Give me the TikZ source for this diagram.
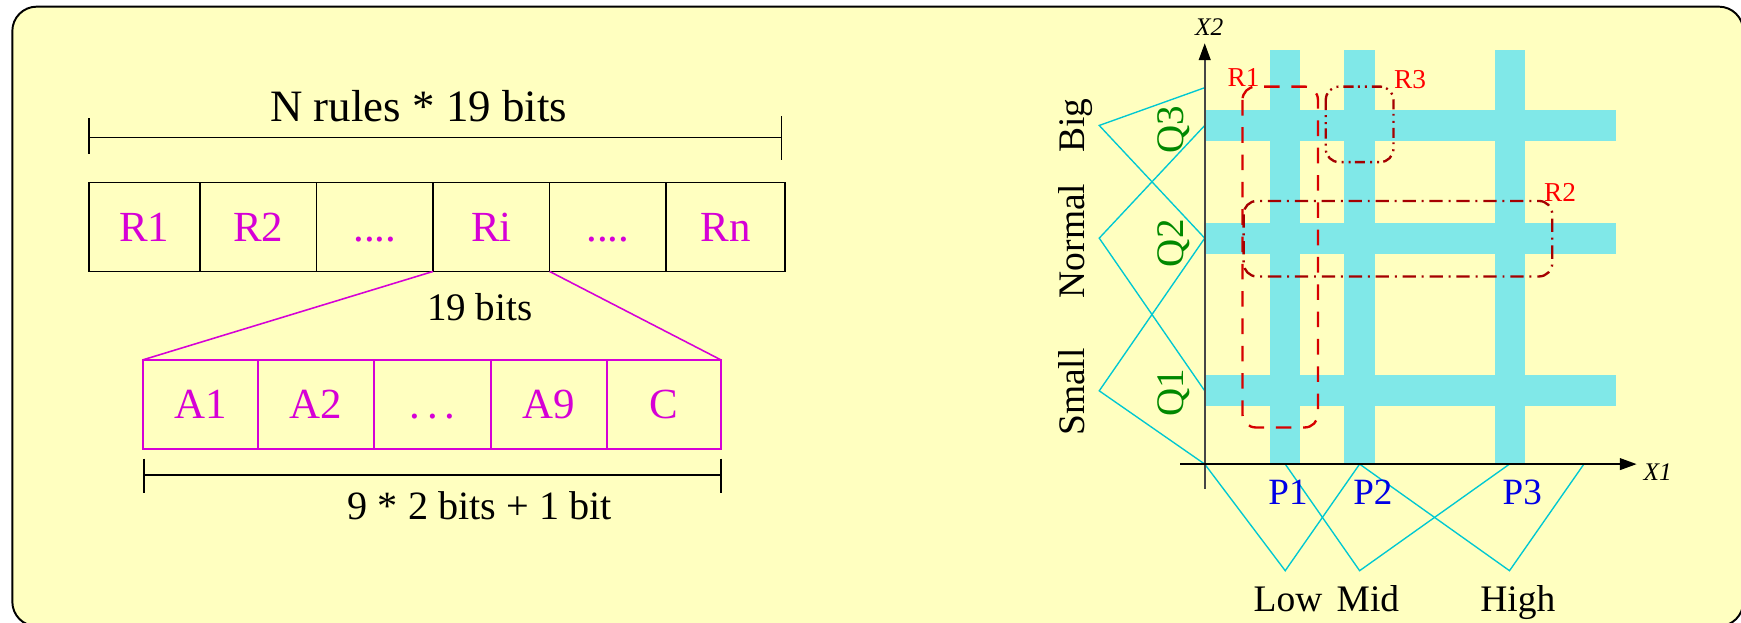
\documentclass[tikz,border=0pt]{standalone}
\usepackage{fontspec}
\setmainfont{Liberation Serif}
\usetikzlibrary{positioning,arrows.meta}

\definecolor{bgyellow}{RGB}{255,255,192}
\definecolor{barcyan}{RGB}{128,232,232}
\definecolor{mfcyan}{RGB}{0,200,210}
\definecolor{labmag}{RGB}{214,0,214}
\definecolor{qgreen}{RGB}{0,136,0}
\definecolor{pblue}{RGB}{0,0,230}
\definecolor{rulered}{RGB}{215,0,0}
\definecolor{rulebrown}{RGB}{165,0,0}
\definecolor{axisgray}{RGB}{70,70,70}

\begin{document}
\begin{tikzpicture}[
    rbox/.style={
        rectangle,
        draw,
        line width=0.4pt,
        outer sep=0pt,
        inner sep=0pt,
        minimum width=1.05cm,
        minimum height=0.8cm,
        text height=7.3pt,
        text depth=0pt,
        text=labmag,
        font=\fontsize{11}{13}\selectfont
    },
    abox/.style={
        rbox,
        draw=labmag,
        line width=0.5pt
    },
    bar/.style={fill=barcyan, draw=none},
    mf/.style={draw=mfcyan, line width=0.35pt},
    lab/.style={inner sep=0pt, font=\fontsize{9.6}{11}\selectfont},
    qlab/.style={inner sep=0pt, text=qgreen, font=\fontsize{10}{12}\selectfont},
    plab/.style={inner sep=0pt, text=pblue, font=\fontsize{9.5}{11}\selectfont},
    rlab/.style={inner sep=0pt, text=red, font=\fontsize{7}{8}\selectfont},
    axlab/.style={inner sep=0pt, font=\fontsize{6.5}{8}\selectfont\itshape},
    rulebox/.style={line width=0.6pt, rounded corners=0.12cm},
    axis/.style={line width=0.45pt, -{Triangle[length=4.3pt,width=3pt,color=black]}}
]

\useasboundingbox (0,0) rectangle (15.68,-5.61);
\draw[fill=bgyellow, line width=0.5pt, rounded corners=0.22cm]
    (0.111,-0.06) rectangle (15.70,-5.64);

% rule string
\node[inner sep=0pt, anchor=base, font=\fontsize{11.5}{14}\selectfont] (ntitle)
    at (3.77,-1.09) {N rules * 19 bits};
\coordinate (nl) at (0.80,-1.24);
\coordinate (nr) at (7.04,-1.24);
\draw[line width=0.4pt] (nl) -- (nr);
\draw[line width=0.4pt] (0.80,-1.065) -- (0.80,-1.387);
\draw[line width=0.4pt] (7.04,-1.047) -- (7.04,-1.44);

\node[rbox, minimum width=1.00cm, anchor=north west] (r1) at (0.80,-1.645) {R1};
\node[rbox, right=0pt of r1] (r2) {R2};
\node[rbox, right=0pt of r2] (rdots1) {....};
\node[rbox, right=0pt of rdots1] (ri) {Ri};
\node[rbox, right=0pt of ri] (rdots2) {....};
\node[rbox, minimum width=1.07cm, right=0pt of rdots2] (rn) {Rn};

\node[inner sep=0pt, anchor=base, font=\fontsize{10}{12}\selectfont] (rbits)
    at (4.32,-2.89) {19 bits};

% one rule
\node[abox, minimum width=1.03cm, anchor=north west] (a1) at (1.29,-3.24) {A1};
\node[abox, right=0pt of a1] (a2) {A2};
\node[abox, right=0pt of a2] (adots) {.\,.\,.};
\node[abox, right=0pt of adots] (a9) {A9};
\node[abox, minimum width=1.02cm, right=0pt of a9] (c) {C};

\draw[labmag, line width=0.4pt] (ri.south west) -- (a1.north west);
\draw[labmag, line width=0.4pt] (ri.south east) -- (c.north east);

\coordinate (al) at (1.296,-4.28);
\coordinate (ar) at (6.494,-4.28);
\draw[line width=0.4pt] (al) -- (ar);
\draw[line width=0.4pt] (1.296,-4.13) -- (1.296,-4.44);
\draw[line width=0.4pt] (6.494,-4.13) -- (6.494,-4.44);
\node[inner sep=0pt, anchor=base, font=\fontsize{10.3}{12}\selectfont] (abits)
    at (4.32,-4.676) {9 * 2 bits + 1 bit};

% fuzzy grid
\fill[bar] (10.85,-0.99) rectangle (14.55,-1.27);
\fill[bar] (10.85,-2.005) rectangle (14.55,-2.285);
\fill[bar] (10.85,-3.38) rectangle (14.55,-3.66);
\fill[bar] (11.44,-0.45) rectangle (11.71,-4.18);
\fill[bar] (12.105,-0.45) rectangle (12.385,-4.18);
\fill[bar] (13.46,-0.45) rectangle (13.73,-4.18);

\draw[mf] (10.85,-0.79) -- (9.90,-1.13) -- (10.85,-2.145);
\draw[mf] (10.85,-1.13) -- (9.90,-2.145) -- (10.85,-3.52);
\draw[mf] (10.85,-2.145) -- (9.90,-3.52) -- (10.85,-4.18);
\draw[mf] (10.85,-4.18) -- (11.575,-5.14) -- (12.245,-4.18);
\draw[mf] (11.575,-4.18) -- (12.245,-5.14) -- (13.595,-4.18);
\draw[mf] (12.245,-4.18) -- (13.595,-5.14) -- (14.265,-4.18);

\coordinate (ybot) at (10.85,-4.40);
\coordinate (ytop) at (10.85,-0.39);
\coordinate (xleft) at (10.63,-4.18);
\coordinate (xright) at (14.74,-4.18);
\draw[axis, axisgray] (ybot) -- (ytop);
\draw[axis] (xleft) -- (xright);
\node[axlab] (x2) at (10.89,-0.24) {X2};
\node[axlab] (x1) at (14.93,-4.25) {X1};

\draw[rulebox, rulered, dash pattern=on 4pt off 3pt]
    (11.19,-0.78) rectangle (11.87,-3.85);
\draw[rulebox, rulebrown, dash pattern=on 3.4pt off 1.5pt on 0.5pt off 1.5pt]
    (11.20,-1.81) rectangle (13.98,-2.49);
\draw[rulebox, rulebrown, dash pattern=on 2.6pt off 1.3pt on 0.5pt off 1.3pt on 0.5pt off 1.1pt]
    (11.94,-0.78) rectangle (12.55,-1.46);
\node[rlab] (rule1) at (11.20,-0.70) {R1};
\node[rlab] (rule3) at (12.70,-0.72) {R3};
\node[rlab] (rule2) at (14.05,-1.735) {R2};

\node[lab, rotate=90, anchor=base] (big) at (9.77,-1.13) {Big};
\node[lab, rotate=90, anchor=base] (normal) at (9.77,-2.17) {Normal};
\node[lab, rotate=90, anchor=base] (small) at (9.77,-3.53) {Small};
\node[qlab, rotate=90, anchor=base] (q3) at (10.655,-1.17) {Q3};
\node[qlab, rotate=90, anchor=base] (q2) at (10.655,-2.19) {Q2};
\node[qlab, rotate=90, anchor=base] (q1) at (10.655,-3.54) {Q1};

\node[plab, anchor=base] (p1) at (11.60,-4.54) {P1};
\node[plab, anchor=base] (p2) at (12.365,-4.54) {P2};
\node[plab, anchor=base] (p3) at (13.71,-4.54) {P3};
\node[lab, anchor=base] (low) at (11.60,-5.51) {Low};
\node[lab, anchor=base] (mid) at (12.32,-5.51) {Mid};
\node[lab, anchor=base] (high) at (13.67,-5.51) {High};

\end{tikzpicture}
\end{document}
